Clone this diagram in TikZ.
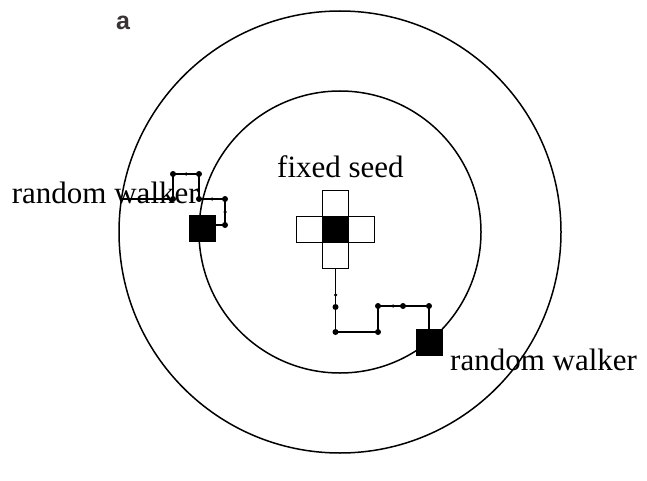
\documentclass[tikz,border=0pt]{standalone}
\usepackage{fontspec}
\setmainfont{Liberation Serif}
\newfontfamily\labelfont{Liberation Sans}
\definecolor{labelgray}{HTML}{3A3336}
\begin{document}
\begin{tikzpicture}[x=1pt,y=-1pt,
  ring/.style={draw=black,line width=1.5pt},
  cell/.style={draw=black,line width=1.4pt,minimum size=26pt,inner sep=0pt,outer sep=0pt},
  filled/.style={cell,fill=black},
  walkerbox/.style={draw=black,fill=black,minimum size=26pt,inner sep=0pt,outer sep=0pt},
  walk/.style={draw=black,line width=1.4pt},
  bigdot/.style={fill=black,circle,inner sep=0pt,minimum size=6pt},
  smalldot/.style={fill=black,circle,inner sep=0pt,minimum size=3.5pt},
  caption/.style={inner sep=0pt,font=\fontsize{31}{36}\selectfont}]
\useasboundingbox (0,0) rectangle (647,481);
\fill[white] (0,0) rectangle (647,481);
% circles
\coordinate (c) at (340,232);
\draw[ring] (c) circle[radius=221];
\draw[ring] (c) circle[radius=141];
% seed cross
\node[filled] (seed) at (335.5,229.5) {};
\node[cell] (seedN) at (335.5,203.5) {};
\node[cell] (seedS) at (335.5,255.5) {};
\node[cell] (seedW) at (309.5,229.5) {};
\node[cell] (seedE) at (361.5,229.5) {};
% right walker
\node[walkerbox] (rw) at (429,342.5) {};
\coordinate (r1) at (335.5,332);
\coordinate (r2) at (378,332);
\coordinate (r3) at (378,306);
\coordinate (r4) at (429,306);
\draw[walk] (seedS.south) -- (r1) -- (r2) -- (r3) -- (r4) -- (rw.north);
\node[smalldot] (rd1) at (335.5,295) {};
\node[bigdot] (rd2) at (335.5,307) {};
\node[bigdot] (rd3) at (r1) {};
\node[bigdot] (rd4) at (r2) {};
\node[bigdot] (rd5) at (r3) {};
\node[smalldot] (rd6) at (393,306) {};
\node[bigdot] (rd7) at (403,306) {};
\node[bigdot] (rd8) at (r4) {};
% left walker
\node[walkerbox] (lw) at (201.7,228) {};
\coordinate (l0) at (121.5,199);
\coordinate (l1) at (173,199);
\coordinate (l2) at (173,174);
\coordinate (l3) at (199,174);
\coordinate (l4) at (199,199);
\coordinate (l5) at (225,199);
\coordinate (l6) at (225,225);
\coordinate (l7) at (214.7,225);
\draw[walk] (l0) -- (l1) -- (l2) -- (l3) -- (l4) -- (l5) -- (l6) -- (l7);
\node[smalldot] (ld0) at (147,199) {};
\node[bigdot] (ld1) at (l1) {};
\node[bigdot] (ld2) at (l2) {};
\node[smalldot] (ld3) at (186,174) {};
\node[bigdot] (ld4) at (l3) {};
\node[bigdot] (ld5) at (l4) {};
\node[smalldot] (ld6) at (212,199) {};
\node[bigdot] (ld7) at (l5) {};
\node[smalldot] (ld8) at (225,212) {};
\node[bigdot] (ld9) at (l6) {};
% labels
\node[caption,anchor=base west] (tl) at (11.7,203) {random walker};
\node[caption,anchor=base west] (tr) at (450,370) {random walker};
\node[caption,anchor=base west] (ts) at (277,177) {fixed seed};
\node[inner sep=0pt,anchor=base west,text=labelgray,font=\labelfont\bfseries\fontsize{25}{30}\selectfont] (lab) at (116,30) {a};
\end{tikzpicture}
\end{document}
